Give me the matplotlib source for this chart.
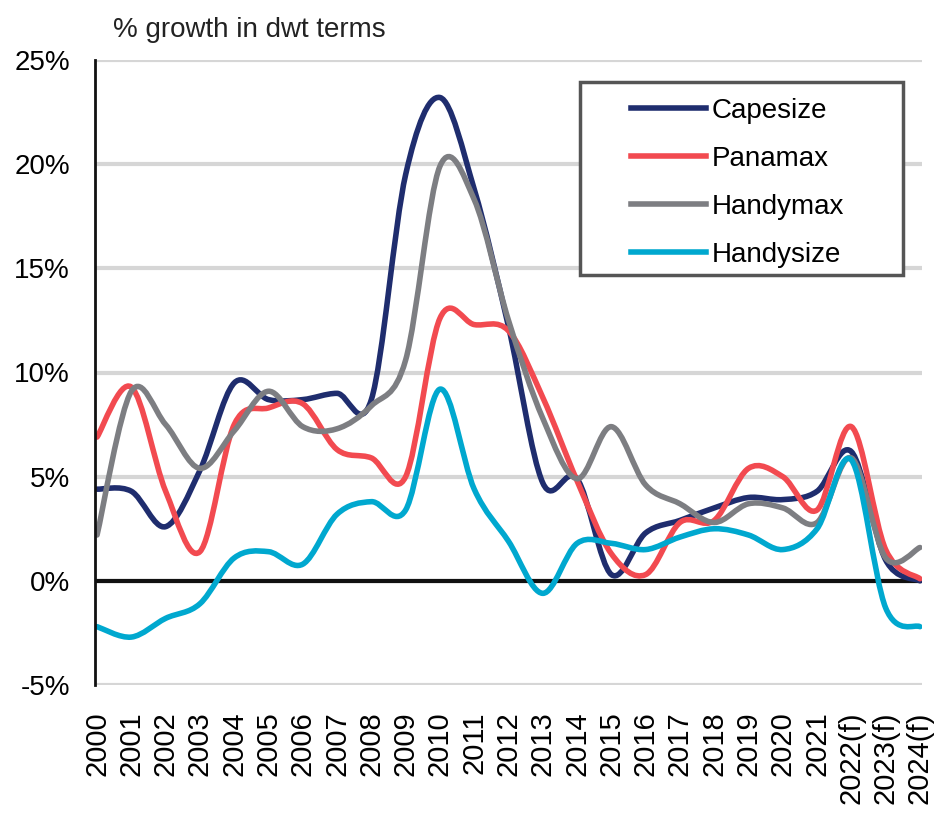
import matplotlib
matplotlib.use('Agg')
import matplotlib.pyplot as plt
from matplotlib.path import Path
from matplotlib.patches import PathPatch, Rectangle
from matplotlib.lines import Line2D
from matplotlib.ticker import FuncFormatter

# values (% growth in dwt terms)
years = ['2000', '2001', '2002', '2003', '2004', '2005', '2006', '2007', '2008',
         '2009', '2010', '2011', '2012', '2013', '2014', '2015', '2016', '2017',
         '2018', '2019', '2020', '2021', '2022(f)', '2023(f)', '2024(f)']
capesize = [4.4, 4.3, 2.6, 5.3, 9.5, 8.7, 8.7, 9.0, 8.7, 19.5, 23.2, 18.8, 12.2,
            4.7, 4.9, 0.3, 2.3, 2.9, 3.5, 4.0, 3.9, 4.3, 6.2, 1.0, 0.0]
panamax = [6.9, 9.3, 4.3, 1.4, 7.5, 8.3, 8.5, 6.3, 5.9, 5.0, 12.6, 12.3, 12.0,
           8.8, 4.8, 1.3, 0.3, 2.8, 2.9, 5.4, 5.0, 3.4, 7.4, 1.5, 0.1]
handymax = [2.2, 9.1, 7.5, 5.4, 7.2, 9.1, 7.4, 7.3, 8.4, 10.6, 19.9, 18.3, 12.5,
            7.8, 4.9, 7.4, 4.6, 3.7, 2.8, 3.7, 3.5, 2.8, 5.9, 1.1, 1.6]
handysize = [-2.2, -2.7, -1.8, -1.1, 1.1, 1.4, 0.8, 3.2, 3.8, 3.4, 9.2, 4.4, 1.9,
             -0.6, 1.8, 1.8, 1.5, 2.1, 2.5, 2.2, 1.5, 2.5, 5.8, -1.3, -2.2]

series = [('Capesize', capesize, '#1f2d6e'),
          ('Panamax', panamax, '#f24a50'),
          ('Handymax', handymax, '#7d7e82'),
          ('Handysize', handysize, '#00a8cf')]

plt.rcParams['font.family'] = ['Liberation Sans', 'DejaVu Sans']


def smooth_path(xs, ys):
    # excel-like smoothed line: bezier segments through every point
    n = len(xs)
    verts = [(xs[0], ys[0])]
    codes = [Path.MOVETO]
    for i in range(n - 1):
        a = max(i - 1, 0)
        d = min(i + 2, n - 1)
        c1 = (xs[i] + (xs[i + 1] - xs[a]) / 6, ys[i] + (ys[i + 1] - ys[a]) / 6)
        c2 = (xs[i + 1] - (xs[d] - xs[i]) / 6, ys[i + 1] - (ys[d] - ys[i]) / 6)
        verts += [c1, c2, (xs[i + 1], ys[i + 1])]
        codes += [Path.CURVE4] * 3
    return Path(verts, codes)


fig = plt.figure(figsize=(9.41, 8.32), dpi=100)
ax = fig.add_axes([95 / 941, 1 - 685 / 832, 827 / 941, 625 / 832])

x = list(range(len(years)))
handles = []
for name, vals, col in series:
    patch = PathPatch(smooth_path(x, vals), facecolor='none', edgecolor=col,
                      lw=4, capstyle='round', joinstyle='round', zorder=3)
    ax.add_patch(patch)
    handles.append(Line2D([], [], color=col, lw=4, label=name))

ax.set_xlim(-0.06, len(years) - 1 + 0.06)
ax.set_ylim(-5, 25)
ax.set_yticks(range(-5, 26, 5))
ax.yaxis.set_major_formatter(FuncFormatter(lambda v, p: f'{v:.0f}%'))
ax.set_xticks(x)
ax.set_xticklabels(years, rotation=90)
ax.tick_params(axis='x', length=0, pad=19, labelsize=21)
ax.tick_params(axis='y', length=0, pad=18, labelsize=20)

ax.grid(axis='y', color='#d6d6d6', lw=3, zorder=0)
ax.axhline(0, color='#111111', lw=3, zorder=2)
for s in ['top', 'right', 'bottom']:
    ax.spines[s].set_visible(False)
ax.spines['left'].set_linewidth(2)
ax.spines['left'].set_color('#111111')
ax.spines['left'].set_zorder(4)

# legend box
ax.add_patch(Rectangle((0.587, 0.656), 0.39, 0.309, transform=ax.transAxes,
                       facecolor='white', edgecolor='#555555', lw=2.5, zorder=5))
leg = ax.legend(handles=handles, loc='upper left', bbox_to_anchor=(0.648, 0.94),
                frameon=False, fontsize=20, handlelength=2.7, handletextpad=0.2,
                labelspacing=0.8, borderpad=0, borderaxespad=0)
leg.set_zorder(6)

fig.text(113 / 941, 1 - 30 / 832, '% growth in dwt terms', fontsize=20,
         ha='left', va='center', color='#222222')

fig.savefig('out.png', dpi=100)
